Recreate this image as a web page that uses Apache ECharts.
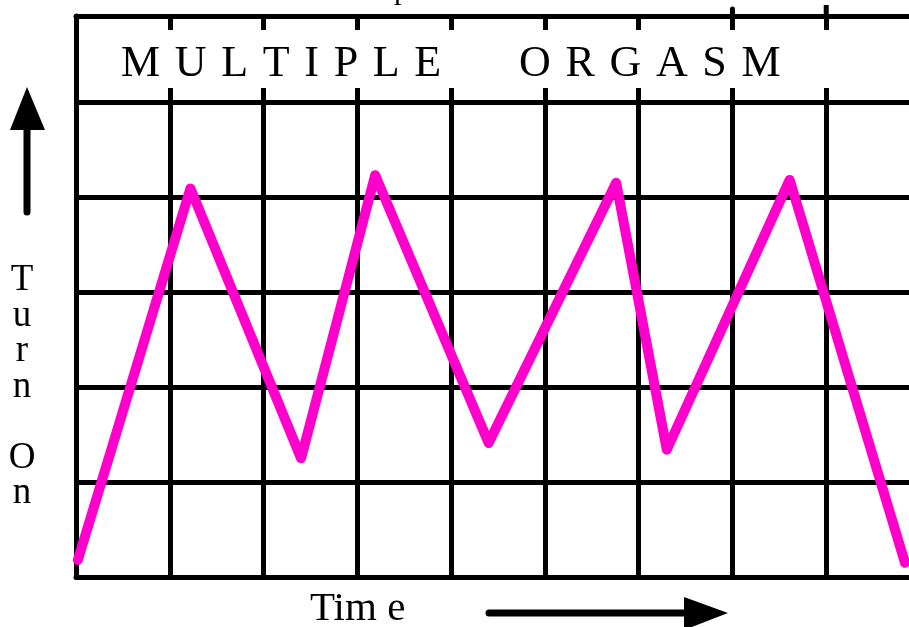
<!DOCTYPE html>
<html>
<head>
<meta charset="utf-8">
<script src="https://cdn.jsdelivr.net/npm/echarts@6/dist/echarts.min.js"></script>
<style>
html,body{margin:0;padding:0;background:#fff;}
#main{width:909px;height:627px;}
</style>
</head>
<body>
<div id="main"></div>
<script>
// the curve, in grid cells (x: time, y: turn on)
var timeVals = [0.02, 1.22, 2.40, 3.19, 4.40, 5.76, 6.30, 7.61, 8.84];
var turnOnVals = [0.18, 4.09, 1.25, 4.23, 1.41, 4.15, 1.34, 4.18, 0.15];
var titleWords = ['MULTIPLE', 'ORGASM'];
var yTitle = 'T\nu\nr\nn\n\nO\nn';
var xTitle = 'Tim e';

var points = [];
for (var i = 0; i < timeVals.length; i++) {
	points.push([timeVals[i], turnOnVals[i]]);
}

var serif = '"Liberation Serif", "DejaVu Serif", serif';
var black = {color: '#000', width: 5};
// spread letters with three-per-em spaces
function spread(w) {
	return w.split('').join('\u2004');
}

var chart = echarts.init(document.getElementById('main'));
chart.setOption({
	backgroundColor: '#fff',
	animation: false,
	grid: [
		{left: 76, width: 844, top: 102, height: 475, outerBoundsMode: 'none'},
		{left: 76, width: 844, top: 16, height: 86, outerBoundsMode: 'none'}
	],
	xAxis: [{
		gridIndex: 0, type: 'value', min: 0, max: 9, interval: 1,
		axisLine: {show: true, onZero: false, lineStyle: black},
		axisTick: {show: false}, axisLabel: {show: false},
		splitLine: {show: true, lineStyle: black}
	}, {
		gridIndex: 1, type: 'value', position: 'top', min: 0, max: 9, interval: 1,
		axisLine: {show: true, onZero: false, lineStyle: black},
		axisTick: {show: true, inside: true, length: 14, lineStyle: black},
		axisLabel: {show: false}, splitLine: {show: false}
	}, {
		gridIndex: 1, type: 'value', position: 'bottom', min: 0, max: 9, interval: 1,
		axisLine: {show: false, onZero: false},
		axisTick: {show: true, inside: true, length: 14, lineStyle: black},
		axisLabel: {show: false}, splitLine: {show: false}
	}],
	yAxis: [{
		gridIndex: 0, type: 'value', min: 0, max: 5, interval: 1,
		axisLine: {show: true, onZero: false, lineStyle: black},
		axisTick: {show: false}, axisLabel: {show: false},
		splitLine: {show: true, lineStyle: black}
	}, {
		gridIndex: 1, type: 'value', min: 0, max: 1,
		axisLine: {show: true, onZero: false, lineStyle: black},
		axisTick: {show: false}, axisLabel: {show: false},
		splitLine: {show: false}
	}],
	series: [{
		type: 'line',
		xAxisIndex: 0, yAxisIndex: 0,
		data: points,
		showSymbol: false,
		clip: false,
		lineStyle: {color: '#ff00cc', width: 10, cap: 'round', join: 'round'}
	}]
});

// stubs above the top border at the two right lines
var x7 = chart.convertToPixel({xAxisIndex: 0}, 7);
var x8 = chart.convertToPixel({xAxisIndex: 0}, 8);

chart.setOption({
	graphic: [
		{type: 'line', shape: {x1: x7, y1: 9, x2: x7, y2: 18}, style: {stroke: '#000', lineWidth: 5, lineCap: 'round'}},
		{type: 'line', shape: {x1: x8, y1: 5, x2: x8, y2: 18}, style: {stroke: '#000', lineWidth: 5}},
		{type: 'text', left: 121, top: 42, style: {text: spread(titleWords[0]), font: '44px ' + serif, fill: '#000'}},
		{type: 'text', left: 519, top: 42, style: {text: spread(titleWords[1]), font: '44px ' + serif, fill: '#000'}},
		{type: 'text', x: 394, y: -9, style: {text: 'p', font: '30px ' + serif, fill: '#000', verticalAlign: 'middle'}},
		{type: 'text', x: 22, y: 263, style: {text: yTitle, font: '37px ' + serif, fill: '#000', align: 'center', lineHeight: 35.5}},
		{type: 'text', left: 310, top: 589, style: {text: xTitle, font: '41px ' + serif, fill: '#000'}},
		// up arrow
		{type: 'line', shape: {x1: 27, y1: 212, x2: 27, y2: 125}, style: {stroke: '#000', lineWidth: 7, lineCap: 'round'}},
		{type: 'polygon', shape: {points: [[27, 87], [45, 130], [10, 130]]}, style: {fill: '#000'}},
		// right arrow
		{type: 'line', shape: {x1: 489, y1: 613, x2: 690, y2: 613}, style: {stroke: '#000', lineWidth: 7, lineCap: 'round'}},
		{type: 'polygon', shape: {points: [[728, 613], [684, 597], [684, 630]]}, style: {fill: '#000'}}
	]
});
</script>
</body>
</html>
